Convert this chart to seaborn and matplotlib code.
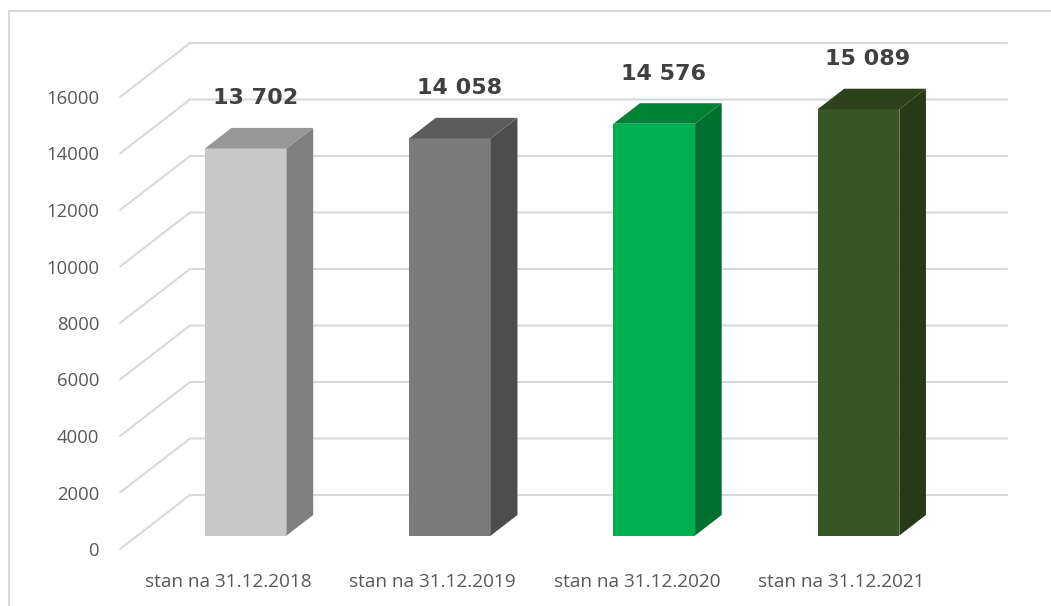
import numpy as np
import pandas as pd
import matplotlib
matplotlib.use("Agg")
import matplotlib.pyplot as plt
import seaborn as sns
from matplotlib.patches import Polygon
from matplotlib.lines import Line2D

# Dane
categories = ["stan na 31.12.2018", "stan na 31.12.2019",
              "stan na 31.12.2020", "stan na 31.12.2021"]
values = [13702, 14058, 14576, 15089]
value_labels = ["13 702", "14 058", "14 576", "15 089"]
y_ticks = [0, 2000, 4000, 6000, 8000, 10000, 12000, 14000, 16000]

# Kolory: przód, bok, góra
front_colors = ["#c8c8c8", "#7a7a7a", "#00b050", "#375623"]
side_colors = ["#808080", "#4d4d4d", "#007030", "#263a18"]
top_colors = ["#979797", "#5c5c5c", "#008236", "#2b421c"]

GRID_COLOR = "#d9d9d9"
TEXT_COLOR = "#595959"

# Głębia 3D w pikselach (x w prawo, y w górę)
DEPTH_PX = (70, 54)
BAR_FRONT = 0.25
BAR_BACK = 0.63

sns.set_style("white")
plt.rcParams["font.family"] = ["Open Sans", "DejaVu Sans"]

fig = plt.figure(figsize=(10.51, 6.06), dpi=100)
ax = fig.add_axes([120 / 1051, 57 / 606, 817 / 1051, 452 / 606])

df = pd.DataFrame({"kategoria": categories, "wartosc": values})
sns.barplot(data=df, x="kategoria", y="wartosc", hue="kategoria",
            palette=front_colors, width=0.4, legend=False, ax=ax,
            saturation=1, zorder=3)

ax.set_xlim(-0.53, 3.47)
ax.set_ylim(0, 16000)

# przeliczenie pikseli na jednostki danych
p0 = ax.transData.transform((0, 0))
p1 = ax.transData.transform((1, 1000))
px_x = p1[0] - p0[0]
px_y = (p1[1] - p0[1]) / 1000.0
dx_full = DEPTH_PX[0] / px_x
dy_full = DEPTH_PX[1] / px_y

fx, fy = dx_full * BAR_FRONT, dy_full * BAR_FRONT
bx, by = dx_full * BAR_BACK, dy_full * BAR_BACK

# siatka: przekątne + tylna ściana
xl, xr = ax.get_xlim()
for t in y_ticks:
    ax.add_line(Line2D([xl, xl + dx_full, xr + dx_full], [t, t + dy_full, t + dy_full],
                       color=GRID_COLOR, lw=1.5, zorder=1, clip_on=False))

# słupki 3D
for i, patch in enumerate(ax.patches[:len(values)]):
    x0 = patch.get_x()
    w = patch.get_width()
    x1 = x0 + w
    v = patch.get_height()
    patch.set_x(x0 + fx)
    patch.set_y(fy)
    patch.set_clip_on(False)
    patch.set_linewidth(0)
    side = Polygon([(x1 + fx, fy), (x1 + bx, by), (x1 + bx, by + v), (x1 + fx, fy + v)],
                   closed=True, facecolor=side_colors[i], edgecolor="none",
                   zorder=3, clip_on=False)
    top = Polygon([(x0 + fx, fy + v), (x1 + fx, fy + v), (x1 + bx, by + v), (x0 + bx, by + v)],
                  closed=True, facecolor=top_colors[i], edgecolor="none",
                  zorder=3, clip_on=False)
    ax.add_patch(side)
    ax.add_patch(top)
    ax.text(x0 + w / 2 + 27 / px_x, v + fy + 50 / px_y, value_labels[i],
            ha="center", va="center", fontsize=16, fontweight="bold",
            color="#404040", family="DejaVu Sans", zorder=5)

ax.set_yticks(y_ticks)
ax.set_yticklabels([str(t) for t in y_ticks])
ax.set_xlabel("")
ax.set_ylabel("")
ax.tick_params(axis="y", length=0, pad=15, labelsize=13.3, labelcolor=TEXT_COLOR)
ax.tick_params(axis="x", length=0, pad=17, labelsize=13.7, labelcolor=TEXT_COLOR)
for s in ax.spines.values():
    s.set_visible(False)
ax.grid(False)
ax.patch.set_alpha(0)

# ramka wykresu (widoczna góra i lewa krawędź)
fig.add_artist(Line2D([9 / 1051, 9 / 1051, 1.0], [0.0, 1 - 11 / 606, 1 - 11 / 606],
                      transform=fig.transFigure, color=GRID_COLOR, lw=1.5))

fig.savefig("out.png", dpi=100)
